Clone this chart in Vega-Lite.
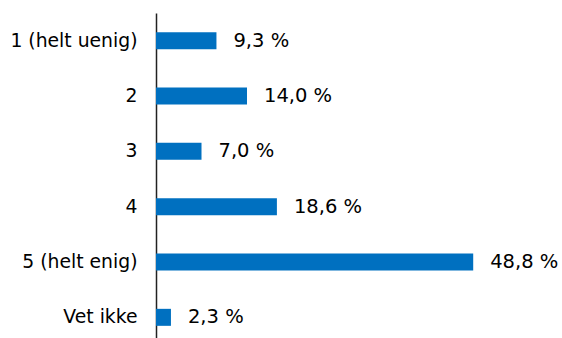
{
  "$schema": "https://vega.github.io/schema/vega-lite/v6.json",
  "autosize": {"type": "none"},
  "padding": {"left": 156, "top": 13, "right": 0, "bottom": 0},
  "width": 406,
  "height": 332,
  "background": "white",
  "config": {"view": {"stroke": null}, "font": "DejaVu Sans"},
  "data": {"values": [
    {"kategori": "1 (helt uenig)", "andel": 9.3, "label": "9,3 %"},
    {"kategori": "2", "andel": 14.0, "label": "14,0 %"},
    {"kategori": "3", "andel": 7.0, "label": "7,0 %"},
    {"kategori": "4", "andel": 18.6, "label": "18,6 %"},
    {"kategori": "5 (helt enig)", "andel": 48.8, "label": "48,8 %"},
    {"kategori": "Vet ikke", "andel": 2.3, "label": "2,3 %"}
  ]},
  "encoding": {
    "y": {"field": "kategori", "type": "nominal", "sort": null,
      "axis": {"title": null, "ticks": false, "grid": false, "domainColor": "#222222", "domainWidth": 1.5,
        "labelFontSize": 18.8, "labelColor": "#000000", "labelPadding": 19, "labelFont": "DejaVu Sans"}},
    "x": {"field": "andel", "type": "quantitative", "scale": {"domain": [0, 62.46]}, "axis": null}
  },
  "layer": [
    {"mark": {"type": "bar", "size": 17, "color": "#0070C0"}},
    {"mark": {"type": "text", "align": "left", "baseline": "middle", "dx": 17, "fontSize": 19.5, "color": "#000000", "font": "DejaVu Sans"},
     "encoding": {"text": {"field": "label"}}}
  ]
}
